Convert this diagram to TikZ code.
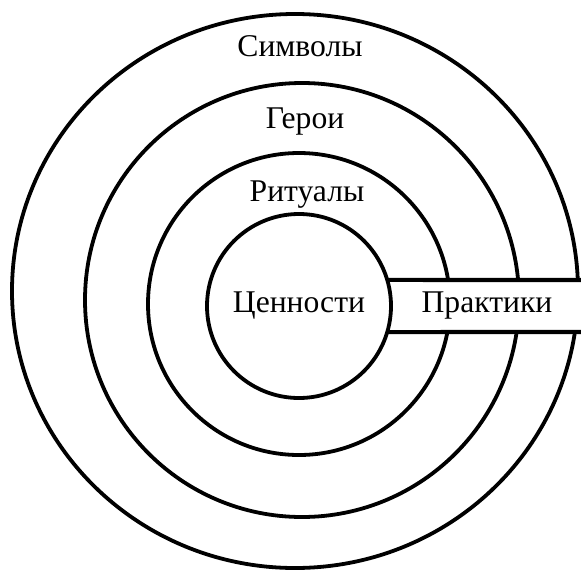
\documentclass[tikz,border=0pt]{standalone}
\usepackage{fontspec}
\setmainfont{Liberation Serif}
\usetikzlibrary{calc}

\begin{document}
\begin{tikzpicture}[
  x={(0.05cm,0cm)},
  y={(0cm,-0.05cm)},
  line join=round,
  ring/.style={draw=black,line width=0.19cm},
  band/.style={draw=black,line width=0.21cm},
  layer/.style={font=\fontsize{45}{48}\selectfont,inner sep=0pt}
]
  \useasboundingbox (0,0) rectangle (581,570);

  % Centres of the rings.
  \coordinate (cout) at (295,291);
  \coordinate (chero) at (302,300);
  \coordinate (crit) at (299,304);
  \coordinate (cval) at (299,306);

  % Outer rings.
  \draw[ring] (cout) ellipse[x radius=283,y radius=277];
  \draw[ring] (chero) circle[radius=217];
  \draw[ring] (crit) circle[radius=151];

  % Practice band cut through the rings.
  \coordinate (ptop) at ($(cval)+(-16.5:92)$);
  \coordinate (pbot) at ($(cval)+(16.5:92)$);
  \coordinate (etop) at (590,280);
  \coordinate (ebot) at (590,332);
  \fill[white] (ptop) rectangle (ebot);
  \draw[band] (ptop) -- (etop);
  \draw[band] (pbot) -- (ebot);

  % Inner ring.
  \draw[ring] (cval) circle[radius=92];

  % Labels.
  \node[layer] (symbols) at (300,46) {Символы};
  \node[layer] (heroes) at (305,122) {Герои};
  \node[layer] (rituals) at (307,195) {Ритуалы};
  \node[layer] (values) at (299,306) {Ценности};
  \node[layer] (practices) at (487,306) {Практики};
\end{tikzpicture}
\end{document}
